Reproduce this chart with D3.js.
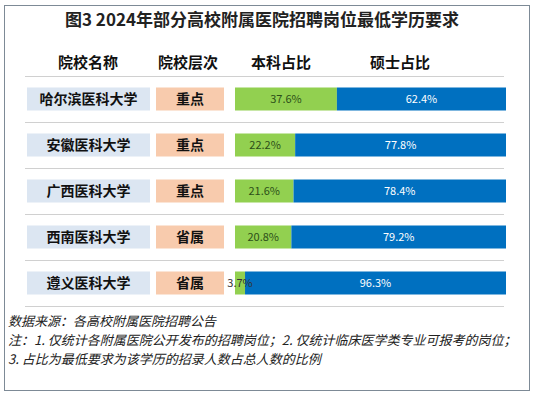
<!DOCTYPE html>
<html><head><meta charset="utf-8">
<script src="https://cdn.jsdelivr.net/npm/d3@7"></script>
<style>
html,body{margin:0;padding:0;background:#fff;}
svg{display:block;font-family:"Noto Sans CJK SC","Noto Sans",sans-serif;}
</style></head>
<body><svg id="c" width="534" height="396"></svg>
<script>
const title = "图3  2024年部分高校附属医院招聘岗位最低学历要求";
const headers = ["院校名称", "院校层次", "本科占比", "硕士占比"];
const schools = ["哈尔滨医科大学", "安徽医科大学", "广西医科大学", "西南医科大学", "遵义医科大学"];
const levels = ["重点", "重点", "重点", "省属", "省属"];
const bachelor = [37.6, 22.2, 21.6, 20.8, 3.7];
const master = [62.4, 77.8, 78.4, 79.2, 96.3];
const notes = [
  "数据来源：各高校附属医院招聘公告",
  "注：1. 仅统计各附属医院公开发布的招聘岗位；2. 仅统计临床医学类专业可报考的岗位；",
  "3. 占比为最低要求为该学历的招录人数占总人数的比例"
];

const svg = d3.select("#c");
svg.append("rect").attr("x",4.5).attr("y",5.5).attr("width",525).attr("height",385)
  .attr("fill","#fff").attr("stroke","#7d8a96").attr("stroke-width",1);

svg.append("text").attr("x",262).attr("y",26).attr("text-anchor","middle")
  .attr("font-size",17).attr("font-weight","bold").attr("fill","#222").text(title);

const headerX = [88, 188, 281, 400];
svg.selectAll(".hd").data(headers).join("text").attr("class","hd")
  .attr("x",(d,i)=>headerX[i]).attr("y",68).attr("text-anchor","middle")
  .attr("font-size",15).attr("font-weight","bold").attr("fill","#111").text(d=>d);

const y = d3.scaleBand().domain(schools).range([76,306]).paddingInner(0.5).paddingOuter(0.25);
const x = d3.scaleLinear().domain([0,100]).range([235,506]);
const bh = y.bandwidth();

const rows = svg.selectAll(".row").data(schools).join("g").attr("class","row")
  .attr("transform",d=>`translate(0,${y(d)})`);

rows.append("rect").attr("x",27).attr("width",123).attr("height",bh).attr("fill","#dce6f2");
rows.append("text").attr("x",88.5).attr("y",bh/2).attr("dy","0.36em").attr("text-anchor","middle")
  .attr("font-size",14).attr("font-weight","bold").attr("fill","#111").text(d=>d);

rows.append("rect").attr("x",156).attr("width",68).attr("height",bh).attr("fill","#f8cbad");
rows.append("text").attr("x",190).attr("y",bh/2).attr("dy","0.36em").attr("text-anchor","middle")
  .attr("font-size",14).attr("font-weight","bold").attr("fill","#111").text((d,i)=>levels[i]);

rows.append("rect").attr("x",x(0)).attr("width",(d,i)=>x(bachelor[i])-x(0)).attr("height",bh).attr("fill","#92d050");
rows.append("rect").attr("x",(d,i)=>x(bachelor[i])).attr("width",(d,i)=>x(bachelor[i]+master[i])-x(bachelor[i])).attr("height",bh).attr("fill","#0070c0");

rows.append("text").attr("x",(d,i)=>x(bachelor[i]/2)).attr("y",bh/2).attr("dy","0.36em").attr("text-anchor","middle")
  .attr("font-size",11).attr("fill",(d,i)=>bachelor[i]<8?"#333":"#2c4f18").text((d,i)=>bachelor[i].toFixed(1)+"%");
rows.append("text").attr("x",(d,i)=>x(bachelor[i]+master[i]/2)).attr("y",bh/2).attr("dy","0.36em").attr("text-anchor","middle")
  .attr("font-size",11).attr("fill","#fff").text((d,i)=>master[i].toFixed(1)+"%");

// separators (row dividers under each row)
const seps = [y.range()[0]].concat(schools.map(s=>y(s)+bh+(y.step()-bh)/2));
svg.append("g").selectAll("line").data(seps).join("line")
  .attr("x1",25).attr("x2",504)
  .attr("y1",d=>Math.round(d)+0.5).attr("y2",d=>Math.round(d)+0.5)
  .style("stroke","#d0d0d0").style("stroke-width","1px");

svg.selectAll(".note").data(notes).join("text").attr("class","note")
  .attr("x",8).attr("y",(d,i)=>326+i*19).attr("font-size",13).attr("font-style","italic")
  .attr("fill","#222").text(d=>d);
</script></body></html>
